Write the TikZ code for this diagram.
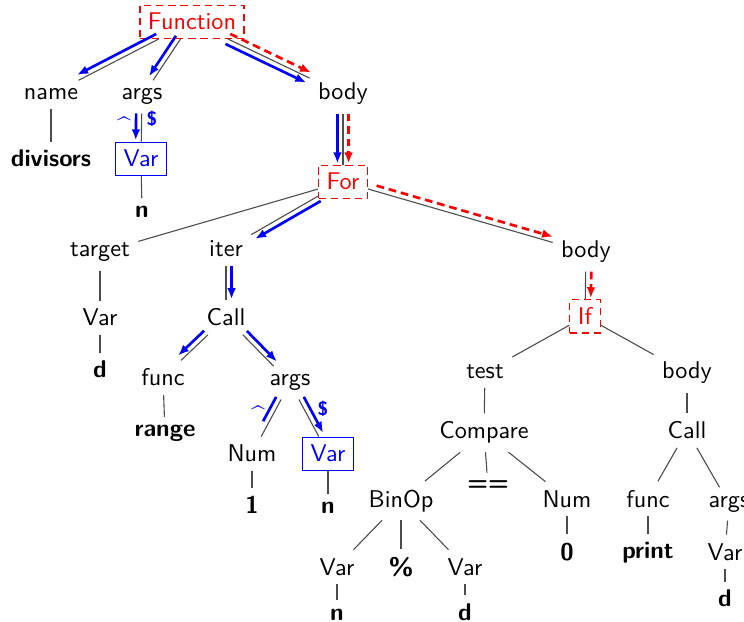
\documentclass[tikz,border=0pt]{standalone}
\usetikzlibrary{arrows.meta,calc}
\tikzset{
  tn/.style={font=\sffamily, anchor=base},
  lf/.style={tn, font=\sffamily\bfseries},
  rbox/.style={tn, draw=red, text=red, line width=0.5pt, dash pattern=on 3pt off 2pt},
  bbox/.style={tn, draw=blue, text=blue, line width=0.5pt},
  ed/.style={draw=black!70, line width=0.45pt},
  ba/.style={draw=blue, line width=1.1pt, -{Latex[length=4.5pt,width=3.6pt]}, shorten >=0.5pt},
  bl/.style={draw=blue, line width=1.1pt},
  ra/.style={draw=red, line width=1.1pt, dash pattern=on 3.2pt off 2pt, -{Latex[length=4.5pt,width=3.6pt]}, shorten >=0.5pt},
  mk/.style={text=blue, font=\sffamily\bfseries\footnotesize, anchor=base, inner sep=0pt},
  mkc/.style={mk, font=\sffamily\bfseries\normalsize}
}
\newcommand\sideL[3]{%
  \path (#2) -- (#3) coordinate[pos=0] (tmpa) coordinate[pos=1] (tmpb);
  \draw[#1] ($(tmpa)!2.3pt!90:(tmpb)$) -- ($(tmpb)!2.3pt!-90:(tmpa)$);}
\newcommand\sideR[3]{%
  \path (#2) -- (#3) coordinate[pos=0] (tmpa) coordinate[pos=1] (tmpb);
  \draw[#1] ($(tmpa)!2.3pt!-90:(tmpb)$) -- ($(tmpb)!2.3pt!90:(tmpa)$);}
\begin{document}
\begin{tikzpicture}[x=0.413pt,y=-0.413pt]
\useasboundingbox (0,0) rectangle (744,622);
% nodes
\node[rbox] (F) at (192,30) {Function};
\node[tn] (nm) at (51,100) {name};
\node[tn] (ag) at (142,100) {args};
\node[tn] (bd) at (343,100) {body};
\node[lf] (dv) at (51,167) {divisors};
\node[bbox] (v1) at (141,167) {Var};
\node[lf] (n1) at (142,218) {n};
\node[rbox] (fo) at (343,190) {For};
\node[tn] (tg) at (100,257) {target};
\node[tn] (it) at (226,257) {iter};
\node[tn] (b2) at (586,258) {body};
\node[tn] (v2) at (100,326) {Var};
\node[tn] (c1) at (226,326) {Call};
\node[rbox] (iff) at (585,325) {If};
\node[lf] (d1) at (100,378) {d};
\node[tn] (fu1) at (163,386) {func};
\node[tn] (ag2) at (290,386) {args};
\node[tn] (ts) at (485,379) {test};
\node[tn] (b3) at (687,379) {body};
\node[lf] (rg) at (165,437) {range};
\node[tn] (cp) at (484,439) {Compare};
\node[tn] (c2) at (687,439) {Call};
\node[tn] (nu1) at (252,462) {Num};
\node[bbox] (v3) at (328,462) {Var};
\node[lf] (o1) at (252,514) {1};
\node[lf] (n2) at (328,514) {n};
\node[tn] (bo) at (401,507) {BinOp};
\node[lf] (eq) at (488,491) {==};
\node[tn] (nu2) at (567,507) {Num};
\node[tn] (fu2) at (648,507) {func};
\node[tn] (ag3) at (729,507) {args};
\node[lf] (z) at (567,560) {0};
\node[lf] (pr) at (648,559) {print};
\node[tn] (v6) at (725,560) {Var};
\node[tn] (v4) at (337,575) {Var};
\node[lf] (pc) at (401,576) {\%};
\node[tn] (v5) at (465,575) {Var};
\node[lf] (n3) at (337,620) {n};
\node[lf] (d2) at (465,620) {d};
\node[lf] (d3) at (725,607) {d};
% labels
\node[mkc] (m1) at (124,135) {\textasciicircum};
\node[mk] (m2) at (152,126) {\$};
\node[mkc] (m3) at (258,424) {\textasciicircum};
\node[mk] (m4) at (323,416) {\$};
% tree edges
\foreach \a/\b in {F/nm,F/ag,F/bd,nm/dv,ag/v1,v1/n1,bd/fo,fo/tg,fo/it,fo/b2,
  tg/v2,v2/d1,it/c1,c1/fu1,c1/ag2,fu1/rg,ag2/nu1,ag2/v3,nu1/o1,v3/n2,
  b2/iff,iff/ts,iff/b3,ts/cp,b3/c2,cp/bo,cp/eq,cp/nu2,c2/fu2,c2/ag3,
  bo/v4,bo/pc,bo/v5,nu2/z,fu2/pr,ag3/v6,v4/n3,v5/d2,v6/d3}
  \draw[ed] (\a) -- (\b);
% highlighted paths
\sideR{ba}{F}{nm}
\sideR{ba}{F}{ag}
\sideR{ba}{F}{bd}
\sideL{ra}{F}{bd}
\sideR{ba}{ag}{v1}
\sideR{ba}{bd}{fo}
\sideL{ra}{bd}{fo}
\sideL{ba}{fo}{it}
\sideL{ra, shorten <=3pt}{fo}{b2}
\sideL{ba}{it}{c1}
\sideR{ba}{c1}{fu1}
\sideL{ba}{c1}{ag2}
\sideR{bl, shorten >=6pt}{ag2}{nu1}
\sideL{ba}{ag2}{v3}
\sideL{ra}{b2}{iff}
\end{tikzpicture}
\end{document}
